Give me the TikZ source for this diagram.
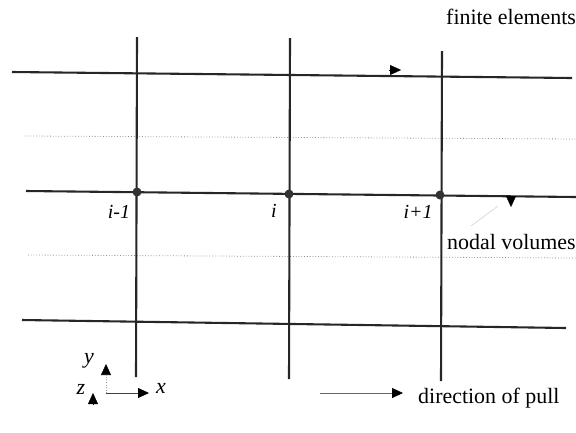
\documentclass[tikz,border=0pt]{standalone}
\usepackage{fontspec}
\setmainfont{Liberation Serif}
\usetikzlibrary{arrows.meta}

\begin{document}
\begin{tikzpicture}[x=1bp, y=-1bp,
  every node/.style={font=\fontsize{22}{24}\selectfont, inner sep=0pt},
  grid/.style={line width=2.1pt, draw=black!85},
  half/.style={line width=0.8pt, draw=black!45, dotted},
  nodal/.style={circle, fill=black!80, minimum size=9bp, inner sep=0pt},
  idx/.style={font=\fontsize{20}{22}\selectfont\itshape},
  axlbl/.style={font=\fontsize{22}{24}\selectfont\itshape},
  tip/.style={-{Triangle[length=11bp, width=10bp, color=black, fill=black]}},
  head/.style={tip, draw=black, line width=0.2pt}
]
\useasboundingbox (0,0) rectangle (576,432);
% Element boundaries: three solid rows and three columns
\coordinate (t0) at (12,72);   \coordinate (t1) at (572,78);
\coordinate (m0) at (26,191);  \coordinate (m1) at (576,197);
\coordinate (b0) at (22,320);  \coordinate (b1) at (566,328);
\coordinate (v1a) at (137,37); \coordinate (v1b) at (136,377);
\coordinate (v2a) at (290,38); \coordinate (v2b) at (289,379);
\coordinate (v3a) at (442,51); \coordinate (v3b) at (441,381);
% Nodal volume limits (dotted)
\coordinate (d0) at (25,136);  \coordinate (d1) at (576,139);
\coordinate (e0) at (28,255);  \coordinate (e1) at (576,258);
\draw[half] (d0) -- (d1);
\draw[half] (e0) -- (e1);
\draw[grid] (t0) -- (t1);
\draw[grid] (m0) -- (m1);
\draw[grid] (b0) -- (b1);
\draw[grid] (v1a) -- (v1b);
\draw[grid] (v2a) -- (v2b);
\draw[grid] (v3a) -- (v3b);
% Nodes on the middle row
\node[nodal] (im1) at (137,192) {};
\node[nodal] (i0)  at (289,194) {};
\node[nodal] (ip1) at (440,195) {};
\node[idx] (lim1) at (119,212) {i-1};
\node[idx] (li0)  at (274,211) {i};
\node[idx] (lip1) at (418,212) {i+1};
% Callouts
\node[anchor=base west] (fe) at (446,24) {finite elements};
\coordinate (fea) at (389,70); \coordinate (feb) at (401,70);
\draw[head] (fea) -- (feb);
\node[anchor=base west] (nv) at (447,249) {nodal volumes};
\coordinate (nva) at (511,196); \coordinate (nvb) at (511,207);
\draw[head] (nva) -- (nvb);
\coordinate (nvl) at (471,226); \coordinate (nvm) at (498,206);
\draw[draw=black!20, line width=0.5pt] (nvl) -- (nvm);
% Axes
\coordinate (o) at (106,393);
\coordinate (oy) at (106,364);
\coordinate (ox) at (149,393);
\coordinate (za) at (93,404); \coordinate (zb) at (93,393);
\draw[tip, draw=black!40, dotted, line width=0.6pt] (o) -- (oy);
\draw[tip, draw=black!75, line width=0.8pt] (o) -- (ox);
\draw[head] (za) -- (zb);
\node[axlbl] (ly) at (89,361) {y};
\node[axlbl] (lz) at (81,389) {z};
\node[axlbl] (lx) at (161,388) {x};
% Pull direction
\coordinate (pa) at (320,393); \coordinate (pb) at (403,393);
\draw[tip, draw=black!60, line width=0.8pt] (pa) -- (pb);
\node[anchor=base west] (dp) at (418,403) {direction of pull};
\end{tikzpicture}
\end{document}
